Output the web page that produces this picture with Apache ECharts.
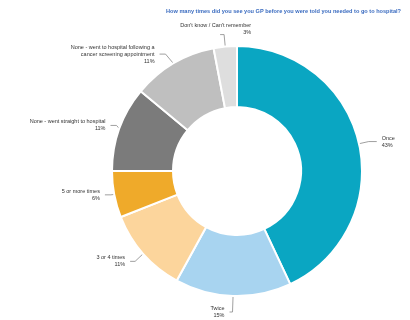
<!DOCTYPE html>
<html>
<head>
<meta charset="utf-8">
<script src="https://cdn.jsdelivr.net/npm/echarts@6/dist/echarts.min.js"></script>
<style>
  html, body { margin: 0; padding: 0; background: #fff; }
  #chart { width: 410px; height: 320px; }
</style>
</head>
<body>
<div id="chart"></div>
<script>
// answer categories, clockwise from 12 o'clock
const categories = [
  'Once',
  'Twice',
  '3 or 4 times',
  '5 or more times',
  'None - went straight to hospital',
  'None - went to hospital following a\ncancer screening appointment',
  "Don't know / Can't remember"
];
// share of respondents (%)
const shares = [43, 15, 11, 6, 11, 11, 3];
const sliceColors = ['#0aa6c2', '#a8d4f0', '#fcd59c', '#efaa2a', '#7b7b7b', '#bfbfbf', '#dedede'];
// leader line lengths per slice [length, length2]
const leaders = [[10, 8], [18, 3], [14, 5], [8, 6], [8, 6], [20, 6], [12, 4]];

const chart = echarts.init(document.getElementById('chart'));

chart.setOption({
  animation: false,
  backgroundColor: '#fff',
  title: {
    text: 'How many times did you see you GP before you were told you needed to go to hospital?',
    right: 4,
    top: 3,
    textStyle: {
      color: '#3b6cc0',
      fontSize: 5.6,
      fontWeight: 'bold',
      fontFamily: 'Liberation Sans, Arial, sans-serif'
    }
  },
  series: [
    {
      type: 'pie',
      center: [237, 171],
      radius: [64, 125],
      startAngle: 90,
      clockwise: true,
      data: categories.map((name, i) => ({
        name: name,
        value: shares[i],
        itemStyle: { color: sliceColors[i] },
        labelLine: { length: leaders[i][0], length2: leaders[i][1] }
      })),
      itemStyle: { borderColor: '#fff', borderWidth: 2 },
      label: {
        show: true,
        position: 'outside',
        formatter: '{b}\n{c}%',
        fontSize: 5.5,
        lineHeight: 7,
        align: 'center',
        color: '#333',
        fontFamily: 'Liberation Sans, Arial, sans-serif'
      },
      labelLine: {
        show: true,
        lineStyle: { color: '#888', width: 0.8 }
      },
      // the small top label sits centred over its leader in the original
      labelLayout: function (params) {
        if (params.dataIndex === 6) {
          return { dx: 36, dy: -6 };
        }
      }
    }
  ]
});
</script>
</body>
</html>
